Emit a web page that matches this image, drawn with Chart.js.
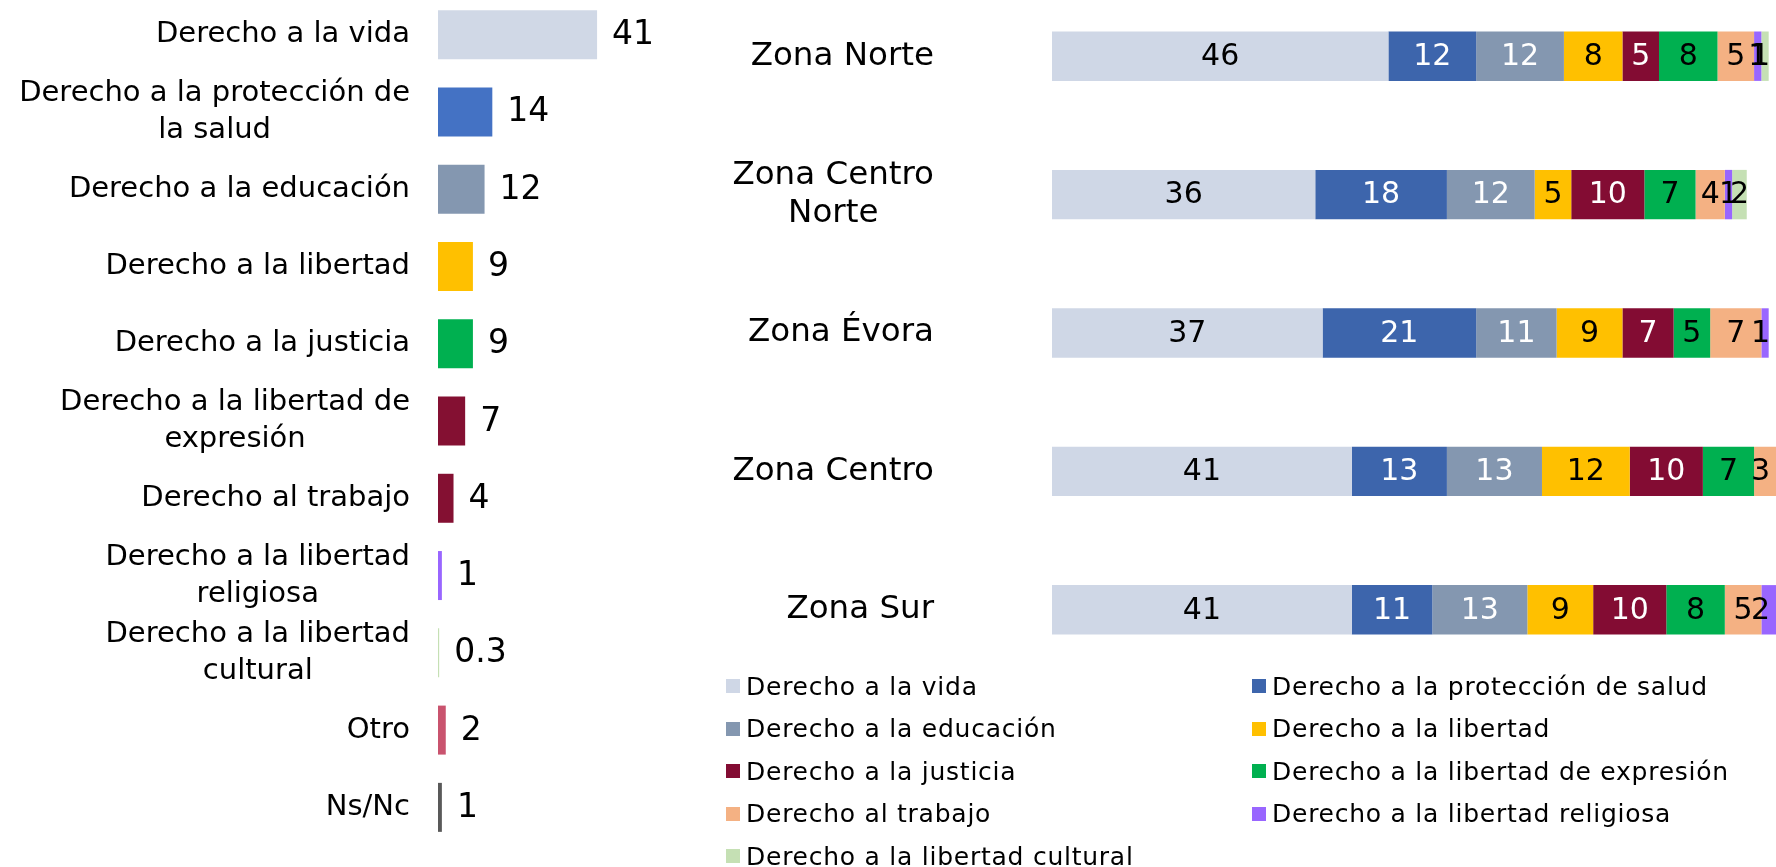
<!DOCTYPE html>
<html>
<head>
<meta charset="utf-8">
<script src="https://cdn.jsdelivr.net/npm/chart.js@4.4.1/dist/chart.umd.min.js"></script>
<style>
  body { margin: 0; background: #fff; width: 1776px; height: 867px; overflow: hidden; position: relative; font-family: "DejaVu Sans", sans-serif; }
  #left { position: absolute; left: 0; top: -4px; }
  #right { position: absolute; left: 720px; top: -13px; }
  #legend { position: absolute; left: 726px; top: 665px; display: grid; grid-template-columns: 526px 500px; grid-auto-rows: 42.5px; }
  .item { display: flex; align-items: center; font-size: 25px; letter-spacing: 0.75px; color: #000; white-space: nowrap; }
  .box { width: 14px; height: 14px; margin-right: 6px; flex: none; }
</style>
</head>
<body>
<canvas id="left" width="720" height="850"></canvas>
<canvas id="right" width="1056" height="692"></canvas>
<div id="legend"></div>
<script>
const FONT = '"DejaVu Sans", sans-serif';

// left chart: total
const rightsLabels = [
  "Derecho a la vida",
  ["Derecho a la protección de", "la salud"],
  "Derecho a la educación",
  "Derecho a la libertad",
  "Derecho a la justicia",
  ["Derecho a la libertad de", "expresión"],
  "Derecho al trabajo",
  ["Derecho a la libertad", "religiosa"],
  ["Derecho a la libertad", "cultural"],
  "Otro",
  "Ns/Nc"
];
const rightsValues = [41, 14, 12, 9, 9, 7, 4, 1, 0.3, 2, 1];
const rightsColors = ["#D0D8E6", "#4472C4", "#8497B0", "#FFC000", "#00B050", "#841032",
  "#841032", "#9966FF", "#C5E0B4", "#C9536E", "#595959"];

// right chart: by zone
const zones = ["Zona Norte", ["Zona Centro", "Norte"], "Zona Évora", "Zona Centro", "Zona Sur"];
const seriesNames = [
  "Derecho a la vida",
  "Derecho a la protección de salud",
  "Derecho a la educación",
  "Derecho a la libertad",
  "Derecho a la justicia",
  "Derecho a la libertad de expresión",
  "Derecho al trabajo",
  "Derecho a la libertad religiosa",
  "Derecho a la libertad cultural"
];
const vida = [46, 36, 37, 41, 41];
const salud = [12, 18, 21, 13, 11];
const educacion = [12, 12, 11, 13, 13];
const libertad = [8, 5, 9, 12, 9];
const justicia = [5, 10, 7, 10, 10];
const expresion = [8, 7, 5, 7, 8];
const trabajo = [5, 4, 7, 3, 5];
const religiosa = [1, 1, 1, 0, 2];
const cultural = [1, 2, 0, 0, 0];
const seriesValues = [vida, salud, educacion, libertad, justicia, expresion, trabajo, religiosa, cultural];
const seriesColors = ["#CFD7E6", "#3D65AC", "#8497B0", "#FFC000", "#830C33", "#00B050",
  "#F4B183", "#9966FF", "#C5E0B4"];
const seriesTextColors = ["#000", "#fff", "#fff", "#000", "#fff", "#000", "#000", "#000", "#000"];

// draws category labels, each line centered inside a right-aligned block
const tickLabelPlugin = {
  id: "tickLabels",
  afterDraw(chart, args, opts) {
    const { ctx } = chart;
    const yScale = chart.scales.y;
    ctx.save();
    ctx.font = `${opts.size}px ${FONT}`;
    ctx.fillStyle = "#000";
    ctx.textAlign = "center";
    ctx.textBaseline = "middle";
    chart.data.labels.forEach((label, i) => {
      const lines = Array.isArray(label) ? label : [label];
      const w = Math.max(...lines.map((l) => ctx.measureText(l).width));
      const cx = yScale.right - opts.gap - w / 2;
      const cy = yScale.getPixelForTick(i) + opts.shift;
      const top = cy - ((lines.length - 1) * opts.lineHeight) / 2;
      lines.forEach((l, j) => ctx.fillText(l, cx, top + j * opts.lineHeight));
    });
    ctx.restore();
  }
};

// value labels next to (or inside) bars
const valueLabelPlugin = {
  id: "valueLabels",
  afterDatasetsDraw(chart, args, opts) {
    const { ctx, chartArea } = chart;
    ctx.save();
    ctx.font = `${opts.size}px ${FONT}`;
    ctx.textBaseline = "middle";
    chart.data.datasets.forEach((ds, di) => {
      const meta = chart.getDatasetMeta(di);
      meta.data.forEach((bar, i) => {
        const v = ds.data[i];
        if (!v) return;
        const txt = String(v);
        const w = ctx.measureText(txt).width;
        if (opts.inside) {
          let x = (bar.x + bar.base) / 2;
          x = Math.min(x, chartArea.right - w / 2 - 6);
          ctx.textAlign = "center";
          ctx.fillStyle = opts.colors[di];
          ctx.fillText(txt, x, bar.y + 1);
        } else {
          ctx.textAlign = "left";
          ctx.fillStyle = "#000";
          ctx.fillText(txt, bar.x + 15, bar.y + 1);
        }
      });
    });
    ctx.restore();
  }
};

new Chart(document.getElementById("left"), {
  type: "bar",
  data: {
    labels: rightsLabels,
    datasets: [{
      data: rightsValues,
      backgroundColor: rightsColors,
      barPercentage: 0.634,
      categoryPercentage: 1
    }]
  },
  options: {
    indexAxis: "y",
    responsive: false,
    animation: false,
    layout: { padding: { left: 0, right: 88, top: 0, bottom: 0 } },
    scales: {
      x: { display: false, min: 0, max: 50 },
      y: {
        grid: { display: false },
        border: { display: false },
        ticks: { display: false },
        afterFit: (scale) => { scale.width = 438; }
      }
    },
    plugins: {
      legend: { display: false },
      tooltip: { enabled: false },
      tickLabels: { size: 29, gap: 28, lineHeight: 37, shift: 0 },
      valueLabels: { size: 33, inside: false }
    }
  },
  plugins: [tickLabelPlugin, valueLabelPlugin]
});

new Chart(document.getElementById("right"), {
  type: "bar",
  data: {
    labels: zones,
    datasets: seriesNames.map((name, k) => ({
      label: name,
      data: seriesValues[k],
      backgroundColor: seriesColors[k],
      barPercentage: 0.357,
      categoryPercentage: 1
    }))
  },
  options: {
    indexAxis: "y",
    responsive: false,
    animation: false,
    layout: { padding: 0 },
    scales: {
      x: { display: false, stacked: true, min: 0, max: 99 },
      y: {
        stacked: true,
        grid: { display: false },
        border: { display: false },
        ticks: { display: false },
        afterFit: (scale) => { scale.width = 332; }
      }
    },
    plugins: {
      legend: { display: false },
      tooltip: { enabled: false },
      tickLabels: { size: 32.5, gap: 118, lineHeight: 38, shift: 0 },
      valueLabels: { size: 30, inside: true, colors: seriesTextColors }
    }
  },
  plugins: [tickLabelPlugin, valueLabelPlugin]
});

// legend in two columns
const legend = document.getElementById("legend");
seriesNames.forEach((name, k) => {
  const item = document.createElement("div");
  item.className = "item";
  const box = document.createElement("span");
  box.className = "box";
  box.style.background = seriesColors[k];
  item.appendChild(box);
  item.appendChild(document.createTextNode(name));
  legend.appendChild(item);
});
</script>
</body>
</html>
